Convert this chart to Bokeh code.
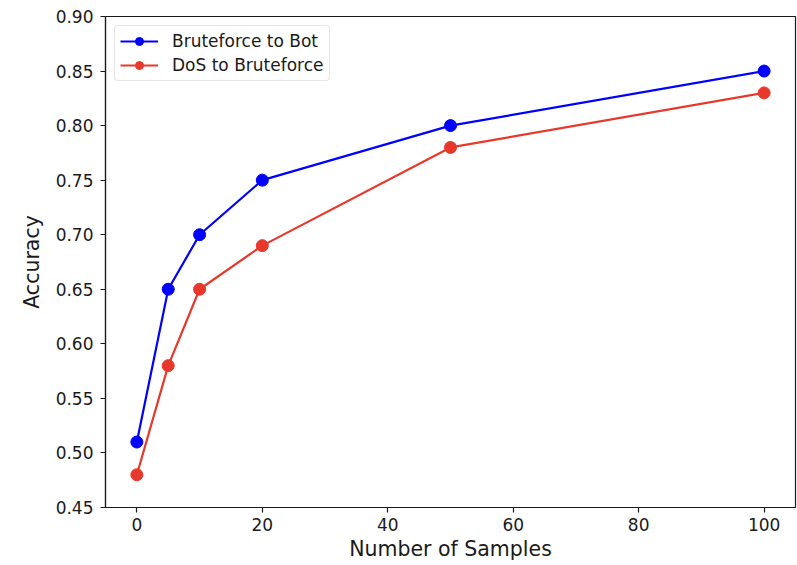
from bokeh.plotting import figure
from bokeh.embed import file_html
from bokeh.resources import INLINE
from bokeh.models import FixedTicker, PrintfTickFormatter, Legend, LegendItem

samples = [0, 5, 10, 20, 50, 100]
brute_to_bot = [0.51, 0.65, 0.70, 0.75, 0.80, 0.85]
dos_to_brute = [0.48, 0.58, 0.65, 0.69, 0.78, 0.83]
x_ticks = [0, 20, 40, 60, 80, 100]
y_ticks = [0.45, 0.50, 0.55, 0.60, 0.65, 0.70, 0.75, 0.80, 0.85, 0.90]

FONT = "DejaVu Sans"
BLUE = "#0000ff"
RED = "#e8382c"
INK = "#1a1a1a"

p = figure(width=797, height=565, output_backend="svg", toolbar_location=None,
           x_range=(-5, 105), y_range=(0.45, 0.90),
           min_border_left=105, min_border_right=2, min_border_top=16, min_border_bottom=58)

p.xgrid.visible = False
p.ygrid.visible = False
p.outline_line_color = INK
p.outline_line_width = 1.2

for ax in (p.xaxis[0], p.yaxis[0]):
    ax.axis_line_color = INK
    ax.axis_line_width = 1.2
    ax.major_tick_line_color = INK
    ax.major_tick_line_width = 1.2
    ax.major_tick_out = 5
    ax.major_tick_in = 0
    ax.minor_tick_line_color = None
    ax.major_label_text_font = FONT
    ax.major_label_text_font_size = "17px"
    ax.major_label_text_color = INK
    ax.axis_label_text_font = FONT
    ax.axis_label_text_font_size = "20.5px"
    ax.axis_label_text_font_style = "normal"
    ax.axis_label_text_color = INK

p.yaxis.major_label_standoff = 7
p.yaxis.axis_label_standoff = 9
p.xaxis.major_label_standoff = 5
p.xaxis.axis_label_standoff = 3

p.xaxis.ticker = FixedTicker(ticks=x_ticks)
p.yaxis.ticker = FixedTicker(ticks=y_ticks)
p.yaxis.formatter = PrintfTickFormatter(format="%.2f")
p.xaxis.axis_label = "Number of Samples"
p.yaxis.axis_label = "Accuracy"

l1 = p.line(samples, brute_to_bot, line_color=BLUE, line_width=2.2)
c1 = p.scatter(samples, brute_to_bot, size=12, fill_color=BLUE, line_color=BLUE)
l2 = p.line(samples, dos_to_brute, line_color=RED, line_width=2.2)
c2 = p.scatter(samples, dos_to_brute, size=12, fill_color=RED, line_color=RED)

legend = Legend(items=[LegendItem(label="Bruteforce to Bot", renderers=[l1, c1]),
                       LegendItem(label="DoS to Bruteforce", renderers=[l2, c2])],
                location="top_left")
legend.label_text_font = FONT
legend.label_text_font_size = "17px"
legend.label_text_color = INK
legend.border_line_color = "#cccccc"
legend.border_line_width = 1
legend.border_radius = 4
legend.margin = 9
legend.padding = 5
legend.spacing = 4
legend.glyph_width = 38
legend.glyph_height = 20
legend.label_height = 20
legend.label_standoff = 14
legend.background_fill_alpha = 0.8
p.add_layout(legend)

open("out.html", "w").write(file_html(p, INLINE))
